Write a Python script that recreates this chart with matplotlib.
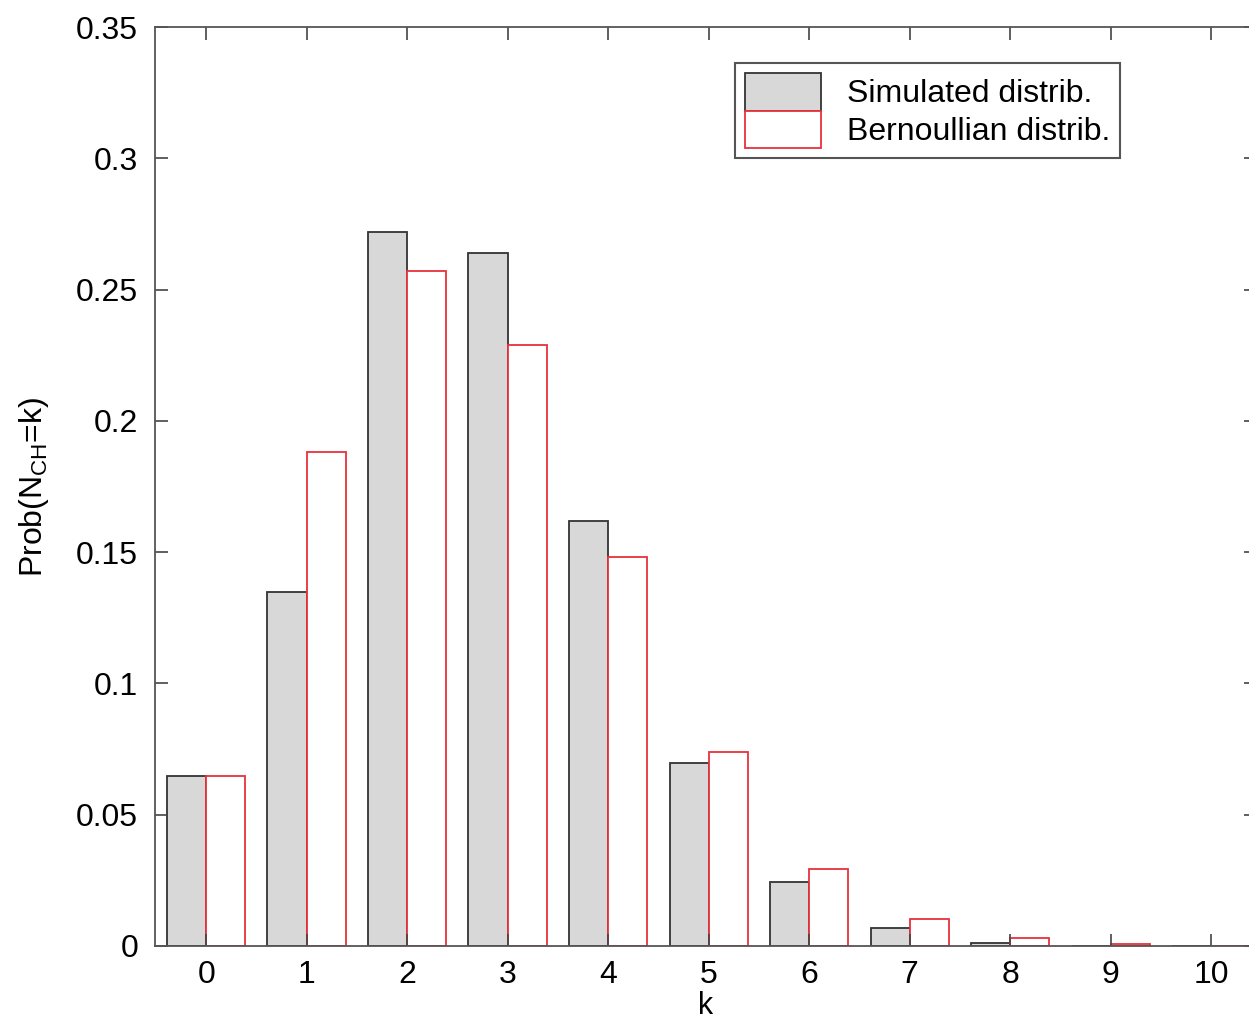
import numpy as np
import matplotlib
matplotlib.use('Agg')
import matplotlib.pyplot as plt

# probabilities
k_values = np.arange(0, 11)
simulated = [0.0647, 0.135, 0.272, 0.264, 0.162, 0.0697, 0.0244, 0.0069, 0.0011, 0.0, 0.0]
bernoullian = [0.0647, 0.188, 0.257, 0.229, 0.148, 0.0739, 0.0293, 0.0103, 0.003, 0.0008, 0.0001]
y_ticks = [0, 0.05, 0.1, 0.15, 0.2, 0.25, 0.3, 0.35]
y_labels = ['0', '0.05', '0.1', '0.15', '0.2', '0.25', '0.3', '0.35']

plt.rcParams['font.family'] = ['Liberation Sans', 'DejaVu Sans']
plt.rcParams['mathtext.fontset'] = 'custom'
plt.rcParams['mathtext.rm'] = 'Liberation Sans'

fig = plt.figure(figsize=(12.49, 10.28), dpi=100)
ax = fig.add_axes([0.124, 0.0798, 0.882, 0.8939])

w = 0.39
ax.bar(k_values - w / 2, simulated, width=w, color='#d8d8d8', edgecolor='#333333',
       linewidth=1.3, label='Simulated distrib.')
ax.bar(k_values + w / 2, bernoullian, width=w, color='white', edgecolor='#e8323c',
       linewidth=1.3, label='Bernoullian distrib.')

ax.set_xlim(-0.51, 10.45)
ax.set_ylim(0, 0.35)
ax.set_xticks(k_values)
ax.set_yticks(y_ticks)
ax.set_yticklabels(y_labels)
ax.tick_params(direction='in', length=9, width=1.2, colors='#444444', labelcolor='black',
               labelsize=23, top=True, right=True)
ax.tick_params(axis='y', pad=12)
ax.tick_params(axis='x', pad=10)
for s in ax.spines.values():
    s.set_color('#555555')
    s.set_linewidth(1.3)

ax.set_xlabel('k', fontsize=22, labelpad=1)
ax.set_ylabel('Prob(N$_{\\mathrm{CH}}$=k)', fontsize=23, labelpad=18)

leg = ax.legend(loc='upper left', bbox_to_anchor=(735 / 1249, 1 - 63 / 1028),
                bbox_transform=fig.transFigure, fontsize=23, fancybox=False,
                framealpha=1, edgecolor='#555555', handlelength=2.4, handleheight=1.45,
                labelspacing=0.0, borderpad=0.3, handletextpad=0.8, borderaxespad=0)
leg.get_frame().set_linewidth(1.5)

fig.savefig('out.png', dpi=100)
